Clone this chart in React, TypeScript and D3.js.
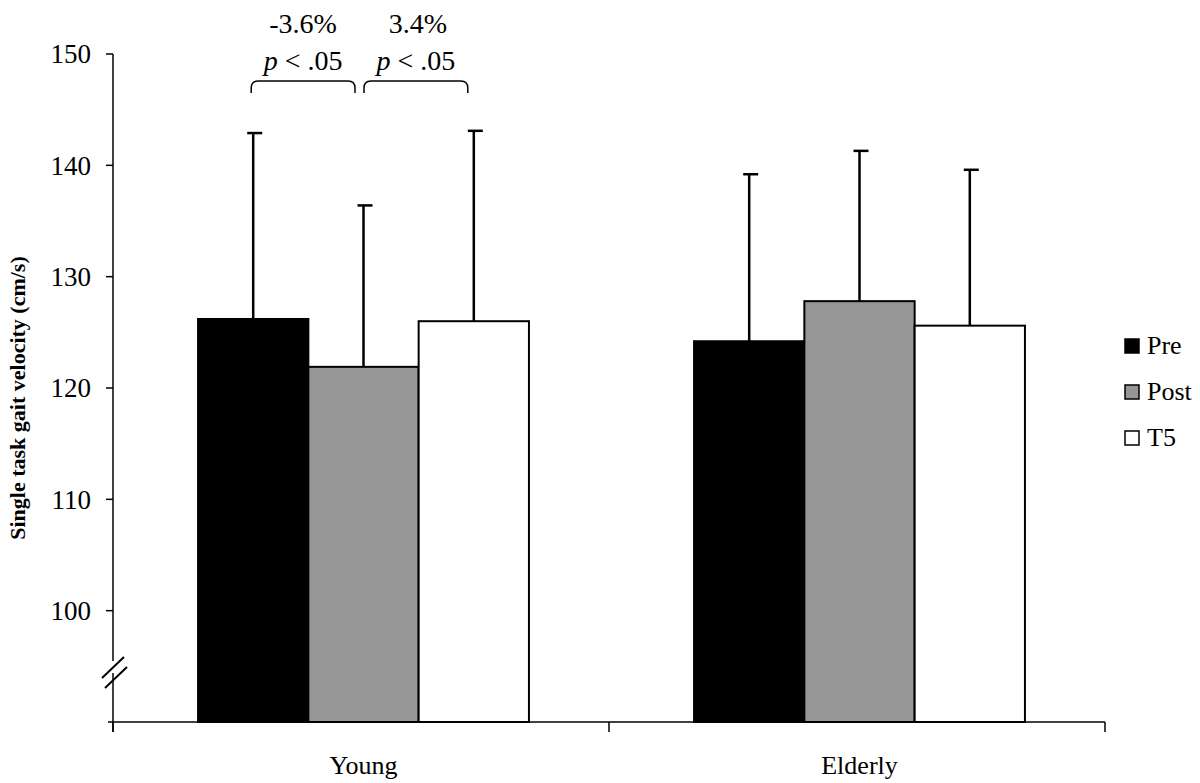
import React from "react";
import * as d3 from "d3";

const groups = ["Young", "Elderly"];
const series = ["Pre", "Post", "T5"];
const fills = ["#000000", "#969696", "#ffffff"];
const means = [
  [126.2, 121.9, 126.0],
  [124.2, 127.8, 125.6],
];
const upperErr = [
  [142.9, 136.4, 143.1],
  [139.2, 141.3, 139.6],
];
const yTicks = [100, 110, 120, 130, 140, 150];
const annotations = [
  { pct: "-3.6%", from: 0, to: 1 },
  { pct: "3.4%", from: 1, to: 2 },
];

const W = 1200, H = 783;
const x0 = 113, x1 = 1105, yTop = 54, yBase = 722;

export default function App() {
  const x = d3.scaleBand<string>().domain(groups).range([x0 + 2.5, x1 + 2.5]).paddingInner(0).paddingOuter(0);
  const xAxis = d3.scaleBand<string>().domain(groups).range([x0, x1]);
  const y = d3.scaleLinear().domain([90, 150]).range([yBase, yTop]);
  const barW = 110.3;
  const groupStart = (g: string) => (x(g) as number) + x.bandwidth() / 2 - (barW * series.length) / 2;
  const serif = "'Liberation Serif', 'Times New Roman', serif";

  const brY = 81;
  return (
    <svg width={W} height={H} style={{ position: "absolute", left: 0, top: 0, background: "#fff" }} fontFamily={serif}>
      {groups.map((g, gi) =>
        series.map((s, si) => {
          const bx = groupStart(g) + si * barW;
          return (
            <rect key={g + s} x={bx} y={y(means[gi][si])} width={barW} height={yBase - y(means[gi][si])}
              fill={fills[si]} stroke="#000" strokeWidth={2} />
          );
        })
      )}
      {groups.map((g, gi) =>
        series.map((s, si) => {
          const cx = groupStart(g) + si * barW + barW / 2;
          return (
            <g key={"e" + g + s} stroke="#000" strokeWidth={2.5}>
              <line x1={cx} x2={cx} y1={y(means[gi][si])} y2={y(upperErr[gi][si])} />
              <line x1={cx - 6} x2={cx + 9} y1={y(upperErr[gi][si])} y2={y(upperErr[gi][si])} />
            </g>
          );
        })
      )}
      <g stroke="#000" strokeWidth={1.5} fill="none">
        <line x1={x0} x2={x0} y1={yTop} y2={661} />
        <line x1={x0} x2={x0} y1={673} y2={732} />
        {yTicks.map((t) => (
          <line key={t} x1={x0 - 7} x2={x0} y1={y(t)} y2={y(t)} />
        ))}
        <line x1={124} y1={657} x2={102} y2={678} strokeWidth={2} />
        <line x1={127} y1={667} x2={105} y2={688} strokeWidth={2} />
        <line x1={x0 - 5} x2={x1} y1={yBase} y2={yBase} />
        {[x0, (xAxis("Elderly") as number), x1].map((t, i) => (
          <line key={i} x1={t} x2={t} y1={yBase} y2={732} />
        ))}
      </g>
      {yTicks.map((t) => (
        <text key={t} x={91} y={y(t)} dy="0.35em" textAnchor="end" fontSize={27}>{t}</text>
      ))}
      {groups.map((g) => (
        <text key={g} x={(x(g) as number) + x.bandwidth() / 2} y={774} textAnchor="middle" fontSize={26}>{g}</text>
      ))}
      <text transform="translate(25,398) rotate(-90)" textAnchor="middle" fontSize={22} fontWeight="bold">
        Single task gait velocity (cm/s)
      </text>
      {annotations.map((a, i) => {
        const ca = groupStart("Young") + a.from * barW + barW / 2;
        const cb = groupStart("Young") + a.to * barW + barW / 2;
        const xs = i === 0 ? ca - 2 : ca + 0.5;
        const xe = i === 0 ? cb - 8.5 : cb - 6;
        const r = 7;
        const d = `M${xs},${brY + 12} L${xs},${brY + r} Q${xs},${brY} ${xs + r},${brY} L${xe - r},${brY} Q${xe},${brY} ${xe},${brY + r} L${xe},${brY + 12}`;
        const cx = (xs + xe) / 2;
        return (
          <g key={i}>
            <path d={d} fill="none" stroke="#000" strokeWidth={1.5} />
            <text x={cx + (i === 0 ? 0 : 2)} y={33} textAnchor="middle" fontSize={28}>{a.pct}</text>
            <text x={cx} y={70} textAnchor="middle" fontSize={28}>
              <tspan fontStyle="italic">p</tspan> {"< .05"}
            </text>
          </g>
        );
      })}
      {series.map((s, i) => (
        <g key={s}>
          <rect x={1125} y={339 + i * 46} width={14} height={14} fill={fills[i]} stroke="#000" strokeWidth={1.5} />
          <text x={1147} y={354 + i * 46} fontSize={26}>{s}</text>
        </g>
      ))}
    </svg>
  );
}
